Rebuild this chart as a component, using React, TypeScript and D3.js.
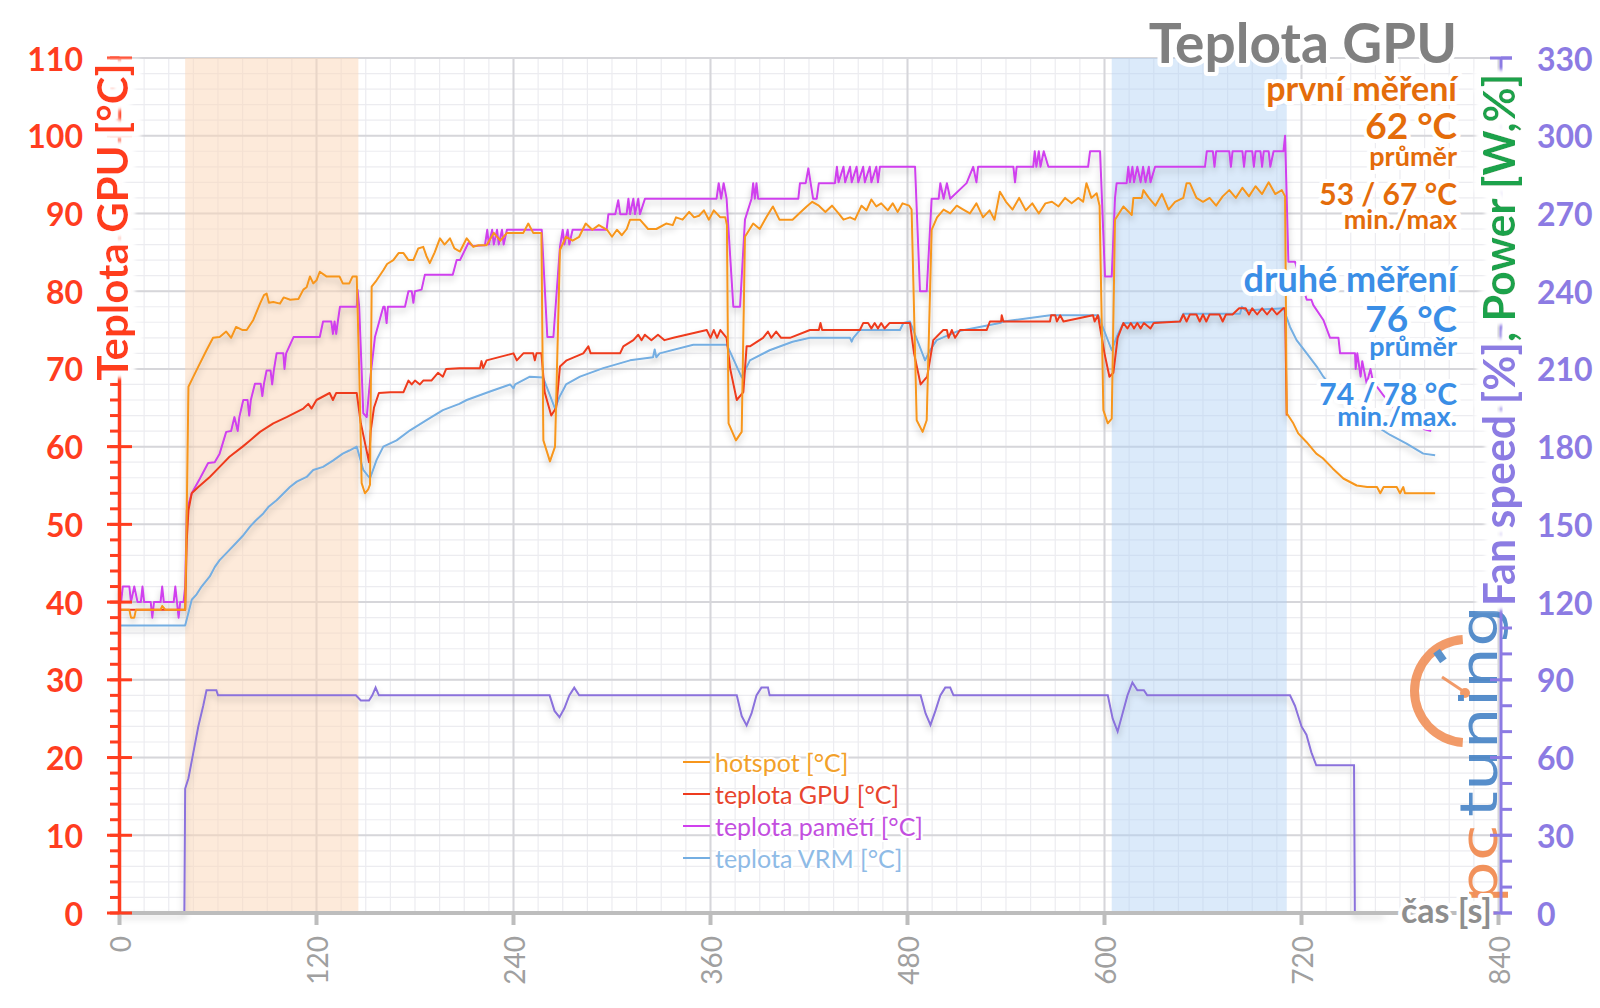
import React, { useEffect } from 'react';
import * as d3 from 'd3';

// ---------- data (time [s], value) ----------
const TIME_TICKS = [0, 120, 240, 360, 480, 600, 720, 840];
const LEFT_TICKS = [0, 10, 20, 30, 40, 50, 60, 70, 80, 90, 100, 110];
const RIGHT_TICKS = [0, 30, 60, 90, 120, 150, 180, 210, 240, 270, 300, 330];

const HOTSPOT: [number, number][] = [
  [0,39],[6,39],[7,38],[9,38],[10,39],[25,39],[26,39.5],[28,39],[40,39],[41,52],[42,67.7],[45,69],[48,70.3],[53,72.4],[57,74],[61,74.1],[65,74.8],[68,74],[71,75.4],[75,75],[77.5,75],[81.5,76.3],[85.6,78.4],[88,79.5],[89.6,79.7],[91,78.5],[93.7,78.6],[97.8,78.4],[100,79.2],[104,78.9],[109,79],[112,80.2],[114,80.5],[116,81.9],[118,81],[120,81.4],[122,82.5],[126,81.9],[134,81.9],[136,81],[140,81],[142,81.9],[144.5,81.9],[146,70],[147.5,55.3],[149.5,54],[151.5,54.5],[152.6,55.1],[153.6,80.6],[156.6,81.4],[160.7,82.7],[163,83.5],[166.8,84],[170,84.9],[173,84.9],[176,84],[179,84],[182,85.5],[185,85.7],[187,84.5],[189,83.6],[192,85],[195.2,86.8],[198,86],[201.3,86.8],[204,85.5],[207.4,85.1],[211.5,86.8],[215.5,85.7],[218.6,85.9],[223.6,85.9],[228,87.5],[232,86.5],[236,87.5],[240,87.5],[246,87.5],[249,88.7],[252,87.5],[257,87.5],[258.2,60.8],[262.2,58.1],[265.3,60],[268.3,85.3],[272,87],[276,86.5],[280,87],[284,88.7],[288,87.9],[292,88.5],[297,87.9],[300,87],[303,87.9],[306,87.2],[309,88],[311,89.2],[317,89.2],[322,88],[327,88],[333,88.7],[337,88.5],[339,89.5],[343,89.2],[347,90.2],[350,89.5],[353,89.7],[356,90.4],[359,89.2],[362,90.4],[366,89.5],[369,89.5],[370,88.5],[371,63],[375.5,60.8],[379,61.9],[381,87],[386,88.7],[390,88],[394,89.5],[398,90.9],[402,89.2],[410,89.2],[414,90],[418.6,90.9],[422,91.5],[426,91],[430,90.2],[434,91],[438,90],[441,89.2],[445,89.5],[448,89.2],[452,91],[455,90.4],[458,91.8],[461,90.9],[464,91.3],[468,90.4],[471,91.3],[474,90.2],[477,91.3],[481,91],[482.5,90.5],[485.6,63.4],[489.2,61.9],[491.7,63.4],[494.7,87.9],[498,89.5],[502,90.5],[506,90],[510,91],[514,90.5],[518,90],[522,91.3],[526,89.5],[530,90.4],[533,89.2],[536.3,92.8],[540,91.5],[544,90.5],[548,92],[552,90.4],[556,91.3],[560,90],[564,91.3],[568,91.5],[572,90.9],[576,92],[580,91.3],[584,92],[587,91.5],[589,93.9],[592,92],[595.2,92.6],[597,91],[599.3,64.7],[602,63],[604.4,63.6],[606.4,89.2],[611.5,90.9],[616.6,89.8],[617.6,92],[622.7,92],[623.7,93],[627,92],[631,91],[635,92.5],[639,90.5],[643,91.5],[648,92],[650,93.9],[652,93.9],[656,92],[660,91.5],[664,92],[668,91],[672,92.2],[676,93],[680,92],[684,93.3],[688,92.2],[692,93.5],[696,92.5],[700,94],[704,92.5],[708,93],[710,92.2],[711,64.3],[715,63],[718,61.7],[723,60.6],[729,59.1],[733,58.5],[739,57.2],[745.5,55.9],[753.6,55],[760,54.8],[766,54.8],[768,54],[770,54.8],[778,54.8],[780,54],[782,54.8],[783,54],[801.4,54]
];

const GPU: [number, number][] = [
  [0,39],[40,39],[41,48],[42,51.8],[44,54],[48,54.8],[55,56.1],[61,57.4],[67,58.7],[75,60],[79.5,60.8],[85.6,61.9],[93.7,63],[101.8,63.8],[112,64.9],[115,65.5],[117,64.9],[120,66],[128,66.9],[130,66],[132,66.9],[144.5,66.9],[147,63],[150,60],[152,58],[153,62],[155,65],[158,66.9],[165,67],[173,67],[176,68.5],[178,68],[180,68.5],[183,68],[185,68.5],[190,68.5],[194,69.5],[197,69],[199,70],[207,70.1],[219.6,70.1],[220.5,71],[221.5,70.1],[223.6,71.1],[240,72],[242,71.1],[246,72],[252,72],[253,71.1],[254,72],[257,72],[259,67],[263,64],[266,65],[268.3,70.3],[272.4,71.1],[282.5,72],[285.6,72.9],[287,72],[304.9,72],[306.9,72.9],[313,73.7],[316,74.4],[318,73.7],[320,74.4],[324,73.7],[328,74.4],[332,73.7],[337.4,74],[357.7,75],[360,74],[362,75],[364,74],[366,75],[369.8,74],[372,70],[376,66],[380,67],[382,72.9],[384,72.9],[392,74],[395,74.8],[397,74],[400,74.8],[403,74],[408.4,74],[420.6,75],[426,75],[427,75.9],[428,75],[451,75],[453,75.9],[456,75.9],[458,75.2],[460,75.9],[462,75.2],[464,75.9],[466,75.2],[469,75.9],[481.5,75.9],[484,72],[488,68],[492,69],[495.7,73.7],[501.8,75],[504,75],[505,74],[507,75],[509,74],[512,75],[528.2,75],[530.2,76.1],[537,76.1],[537.4,76.9],[538.4,76.1],[566.8,76.1],[567.5,76.9],[570,76.9],[571,76.1],[573,76.9],[575,76.1],[593,76.9],[594,76.1],[596,76.9],[600,72],[603,69],[605.4,69.5],[608,74],[611.5,75.9],[614,75.2],[616,75.9],[618,75.2],[620,75.9],[622,75.2],[624,75.9],[628,75.2],[630,75.9],[646,76.1],[648,77],[650,76.1],[652,77],[656,77],[658,76.1],[660,77],[662,76.1],[664,77],[670,77],[672,76.1],[674,77],[678,77],[682,77.8],[686,77.8],[688,77],[690,77.8],[693,77],[696,77.8],[699,77],[702,77.8],[705,77],[709,77.8],[710,77.8],[711,64]
];

const MEMORY: [number, number][] = [
  [0,42],[1,40],[2,42],[6,42],[7,40],[9,42],[11,40],[13,40],[14,42],[15,40],[19,40],[20,38],[21,40],[25,40],[26,42],[27,40],[33,40],[34,42],[35,40],[36,38],[37,40],[39,40],[40,42],[41,51.8],[44,54],[49,55.9],[54,57.9],[58,58],[61,59.1],[65,61.9],[68,62],[70,63.8],[72,62],[73,63.8],[75.4,66],[78,66],[79,64],[80,66],[82.5,68.1],[86,68.1],[87,66.5],[88,68.1],[89.6,69.8],[92,69.8],[93,68],[94,69.8],[95.7,72],[99.8,72],[100.5,70],[101.5,72],[106,74.1],[122,74.1],[124,76.1],[129,76.1],[130,74.5],[131,76.1],[132,74.5],[133,76.1],[134.3,78],[144.5,78],[145,80.2],[146,78],[148.5,64.3],[150.6,63.8],[152.6,68.5],[155.6,74.1],[160.7,78],[161.5,78],[162.7,75.9],[163.5,78],[173.9,78],[176,80],[178,80],[179,78.5],[180,80],[184,80.2],[186,82.1],[203,82.1],[205.4,84],[207.4,84],[212.5,86.2],[215.5,85.8],[222.6,85.9],[224,87.9],[225,86],[227,87.9],[228,86],[230,87.9],[231,86],[233,87.9],[234,86],[236,87.9],[257.2,87.9],[260.6,74.1],[264.3,74.1],[268.3,85.7],[270,87.9],[271,86],[273,87.9],[274,86],[276,87.9],[296.7,87.9],[297.8,89.9],[302,89.9],[303.8,91.7],[305,89.9],[308.9,89.9],[310,91.9],[311,89.9],[313,91.9],[314,89.9],[316,91.9],[317,89.9],[320.1,91.9],[363.7,91.9],[365,93.9],[366.5,91.9],[368,93.9],[369.8,91.9],[373.9,78],[378,78],[381,89.2],[385,91.9],[386,93.9],[387,91.9],[388,93.9],[389,91.9],[413.5,91.9],[414.5,93.9],[418,93.9],[419.6,95.8],[421,93.9],[422.5,91.9],[424.7,91.9],[426,93.9],[435.8,93.9],[437,96],[438,94],[441,96],[442,94],[445,96],[446,94],[449,96],[450,94],[453,96],[454,94],[457,96],[458,94],[461,96],[462,94],[463.2,96],[484.6,96],[487.6,80],[491.7,80],[494.7,91.9],[499,91.9],[500,93.9],[502,91.9],[504,93.9],[506,91.9],[516,93.9],[520,96],[522,94],[523,96],[544.5,96],[545.5,94],[546.5,96],[556.6,96],[557.5,98],[558.5,96],[560,98],[561,96],[563,98],[565.8,96],[590,96],[591.2,98],[597.3,98],[600.3,81.9],[604.4,81.9],[606.4,92],[607.4,93.9],[613.5,93.9],[614.5,96],[615.5,94],[617,96],[618,94],[620,96],[622,94],[623.5,96],[625,94],[627,96],[628,94],[630.8,96],[661.2,96],[662.3,98],[666,98],[667,96],[668,98],[676,98],[677,96],[678,98],[684,98],[685,96],[686,98],[690,98],[691,96],[692,98],[695,98],[696,96],[697,98],[700,98],[701,96],[703,98],[709,98],[710,100],[712,83.8],[716,83.8],[723.2,78.9],[726,78.9],[727.2,78.2],[733.3,76.3],[737.4,74],[742.5,74],[743.5,72],[752.6,72],[753,70],[754,72],[756,69],[757,71],[759.7,68.1],[762,70],[763.8,68.1],[766,67.7],[772,66],[780,64],[790,62.5],[799,62]
];

const VRM: [number, number][] = [
  [0,37],[40,37],[44,40.3],[47,41],[50,42],[55,43.3],[58,44.5],[61,45.4],[66,46.5],[71,47.6],[75,48.5],[79.5,49.7],[83,50.5],[87.6,51.4],[91,52.3],[95.7,53.1],[100,54],[103.8,54.8],[108,55.5],[114,56.1],[118,57],[124,57.4],[130,58.2],[136,59.1],[140,59.5],[144.5,60],[148.5,57],[152.6,55.9],[156.6,58.3],[160.7,60],[168.8,60.8],[177,62.1],[187,63.4],[197,64.7],[207,65.5],[211.5,66],[225.7,67.1],[237.9,68],[240,67.5],[241,68],[250,69],[258,68.9],[265.3,64.9],[268,66.4],[272,68],[280.5,69],[294.7,70.1],[311,71.1],[325,71.5],[326,72.5],[327,71.5],[329,72],[349.5,73.1],[370,73.1],[379,68.9],[384,71.1],[396,72.4],[410,73.5],[420.6,74],[445,74],[446,73.5],[447,74],[451,75],[475.4,75],[477.5,75.9],[481.5,76.1],[490.7,71.1],[493.7,72.4],[497.8,73.7],[510,74.8],[536.3,75.9],[538.4,76.1],[567,76.9],[596.2,76.9],[604.4,72.4],[607.4,74.1],[611.5,75.9],[646,76.1],[648,77.1],[682.6,77.1],[683.6,78],[686,77.5],[709,77.8],[713,75.4],[717,73.7],[723.2,72],[729.3,70.3],[733.3,69],[741.4,66.9],[749.6,65.1],[757.7,64.3],[765.8,62.6],[774,61.5],[784,60.4],[794.2,59.1],[801.4,58.9]
];

// fan speed in % (right axis)
const FAN: [number, number][] = [
  [0,0],[39.5,0],[40,48],[42,52],[45,62],[48,72],[51,80],[53,86],[59,86],[60,84],[144,84],[147,82],[152,82],[154,84],[156,87],[158,84],[262,84],[265,78],[268,75.6],[271,79],[274,84],[277,87],[280,84],[376,84],[379,76],[382,72.4],[385,77],[388,84],[391,87],[395,87],[396,84],[488,84],[491,77],[494,72.6],[497,78],[500,84],[503,87],[506,87],[508,84],[602,84],[605,75],[608,70],[611,77],[614,84],[617,89],[620,86],[624,86],[626,84],[713,84],[716,80],[720,72],[723,68.8],[726,62],[729,57],[752,57],[752.5,0],[770,0]
];

const BANDS: { from: number; to: number; color: string }[] = [
  { from: 40, to: 145.5, color: 'rgba(252, 214, 182, 0.5)' },
  { from: 604.4, to: 711, color: 'rgba(176, 208, 245, 0.45)' },
];

const SERIES = [
  { name: 'hotspot [°C]', data: HOTSPOT, color: '#f7961c', text: '#f2a12a' },
  { name: 'teplota GPU [°C]', data: GPU, color: '#ee3b1e', text: '#e8452e' },
  { name: 'teplota pamětí [°C]', data: MEMORY, color: '#d040ee', text: '#c34fdf' },
  { name: 'teplota VRM [°C]', data: VRM, color: '#74aee2', text: '#8fbbe6' },
];

const FONT = "Lato, 'Open Sans', 'DejaVu Sans', sans-serif";
const LEFT_COLOR = '#ff3d1f';
const RIGHT_COLOR = '#8c7be3';
const FAN_COLOR = '#8b72dc';

export default function App() {
  useEffect(() => {
    document.body.style.margin = '0';
  }, []);

  const X0 = 119.5, X1 = 1498.5, Y0 = 913, Y1 = 58;
  const x = d3.scaleLinear().domain([0, 840]).range([X0, X1]);
  const yL = d3.scaleLinear().domain([0, 110]).range([Y0, Y1]);
  const yR = d3.scaleLinear().domain([0, 330]).range([Y0, Y1]);

  const lineL = d3.line<[number, number]>().x(d => x(d[0])).y(d => yL(d[1]));
  const lineR = d3.line<[number, number]>().x(d => x(d[0])).y(d => yR(d[1]));

  const minorY = d3.range(0, 110.01, 2);
  const minorX = d3.range(0, 840.01, 15);

  const halo = { stroke: '#fff', strokeWidth: 8, strokeLinejoin: 'round' as const, paintOrder: 'stroke' as const };

  const titleX = 1457;

  return (
    <svg width={1600} height={1008} style={{ position: 'absolute', left: 0, top: 0, background: '#fff' }} fontFamily={FONT}>
      <defs>
        <filter id="shadow" x="-5%" y="-5%" width="110%" height="120%">
          <feDropShadow dx="0" dy="4" stdDeviation="3" floodColor="#000" floodOpacity="0.22" />
        </filter>
        <filter id="glow" x="-15%" y="-15%" width="130%" height="130%">
          <feMorphology in="SourceAlpha" operator="dilate" radius="6" result="d" />
          <feGaussianBlur in="d" stdDeviation="2" result="b" />
          <feFlood floodColor="#ffffff" result="f" />
          <feComposite in="f" in2="b" operator="in" result="w" />
          <feMerge>
            <feMergeNode in="w" />
            <feMergeNode in="w" />
            <feMergeNode in="SourceGraphic" />
          </feMerge>
        </filter>
      </defs>
      <rect x={0} y={0} width={1600} height={1008} fill="#fff" />

      {/* minor grid */}
      {minorY.map(v => (
        <line key={'my' + v} x1={X0} x2={X1} y1={yL(v)} y2={yL(v)} stroke="#ececf0" strokeWidth={1.2} />
      ))}
      {minorX.map(v => (
        <line key={'mx' + v} x1={x(v)} x2={x(v)} y1={Y1} y2={Y0} stroke="#ececf0" strokeWidth={1.2} />
      ))}
      {/* major grid */}
      {LEFT_TICKS.map(v => (
        <line key={'gy' + v} x1={X0} x2={X1} y1={yL(v)} y2={yL(v)} stroke="#d6d6da" strokeWidth={2} />
      ))}
      {TIME_TICKS.map(v => (
        <line key={'gx' + v} x1={x(v)} x2={x(v)} y1={Y1} y2={Y0} stroke="#d6d6da" strokeWidth={2} />
      ))}

      {/* bands */}
      {BANDS.map((b, i) => (
        <rect key={'b' + i} x={x(b.from)} y={Y1} width={x(b.to) - x(b.from)} height={Y0 - Y1} fill={b.color} />
      ))}

      {/* logo */}
      <g opacity={0.85}>
        <path
          d={d3.arc()({ innerRadius: 47, outerRadius: 56, startAngle: -Math.PI * 0.02, endAngle: -Math.PI * 0.98 }) || ''}
          transform="translate(1466,691)"
          fill="#f08a4f"
        />
        <line x1={1466} y1={693} x2={1442} y2={677} stroke="#f08a4f" strokeWidth={3} />
        <circle cx={1465} cy={693} r={5} fill="#f08a4f" />
        <rect x={1436} y={650} width={8} height={12} fill="#3f7fc4" transform="rotate(-35,1440,656)" />
        <text transform="translate(1497,817) rotate(-90)" fontSize={52} fontWeight={400} fill="#3a7bc2" textLength={212} lengthAdjust="spacingAndGlyphs" fontFamily="'DejaVu Sans', sans-serif">tuning</text>
        <text transform="translate(1497,904) rotate(-90)" fontSize={52} fontWeight={400} fill="#f08040" textLength={80} lengthAdjust="spacingAndGlyphs" fontFamily="'DejaVu Sans', sans-serif">pc</text>
      </g>

      {/* series */}
      <g filter="url(#shadow)">
        <path d={lineR(FAN) || ''} fill="none" stroke={FAN_COLOR} strokeWidth={2} />
        {[...SERIES].reverse().map(s => (
          <path key={s.name} d={lineL(s.data) || ''} fill="none" stroke={s.color} strokeWidth={2} strokeLinejoin="round" />
        ))}
      </g>

      {/* x axis */}
      <line x1={X0} x2={X1} y1={Y0} y2={Y0} stroke="#bdbdbd" strokeWidth={4} />
      {TIME_TICKS.map(v => (
        <g key={'xt' + v}>
          <line x1={x(v)} x2={x(v)} y1={Y0} y2={Y0 + 12} stroke="#bdbdbd" strokeWidth={4} />
          <text transform={`translate(${x(v)},${936}) rotate(-90)`} textAnchor="end" dominantBaseline="central" fontSize={28} fontWeight={400} fill="#a0a0a0">{v}</text>
        </g>
      ))}

      {/* left axis */}
      <line x1={X0} x2={X0} y1={Y0} y2={Y1} stroke={LEFT_COLOR} strokeWidth={3.5} />
      {minorY.map(v => (
        <line key={'lt' + v} x1={110} x2={X0} y1={yL(v)} y2={yL(v)} stroke={LEFT_COLOR} strokeWidth={3} />
      ))}
      {LEFT_TICKS.map(v => (
        <g key={'lmt' + v}>
          <line x1={107} x2={132} y1={yL(v)} y2={yL(v)} stroke={LEFT_COLOR} strokeWidth={3} />
          <text x={83} y={yL(v)} textAnchor="end" dominantBaseline="central" fontSize={32} fontWeight={700} fill={LEFT_COLOR}>{v}</text>
        </g>
      ))}

      {/* right axis */}
      <line x1={1501} x2={1501} y1={Y0} y2={Y1} stroke={RIGHT_COLOR} strokeWidth={3} />
      {d3.range(0, 330.01, 10).map(v => (
        <line key={'rt' + v} x1={1501} x2={1512} y1={yR(v)} y2={yR(v)} stroke={RIGHT_COLOR} strokeWidth={3} />
      ))}
      {RIGHT_TICKS.map(v => (
        <g key={'rmt' + v}>
          <line x1={1490} x2={1512} y1={yR(v)} y2={yR(v)} stroke={RIGHT_COLOR} strokeWidth={3} />
          <text x={1537} y={yR(v)} textAnchor="start" dominantBaseline="central" fontSize={32} fontWeight={700} fill={RIGHT_COLOR}>{v}</text>
        </g>
      ))}

      {/* axis titles */}
      <g filter="url(#glow)">
        <text transform="translate(128,222) rotate(-90)" textAnchor="middle" fontSize={42} fontWeight={700} fill={LEFT_COLOR}>Teplota GPU [°C]</text>
      </g>
      <g filter="url(#glow)">
        <text transform="translate(1515,340) rotate(-90)" textAnchor="middle" fontSize={43} fontWeight={700}>
          <tspan fill={RIGHT_COLOR}>Fan speed [%]</tspan>
          <tspan fill="#1ea24c">, Power [W,%]</tspan>
        </text>
      </g>
      <text x={1492} y={923} textAnchor="end" fontSize={34} fontWeight={700} fill="#8e8e8e" {...halo}>čas [s]</text>

      {/* legend */}
      {SERIES.map((s, i) => {
        const ly = 762 + i * 32;
        return (
          <g key={'lg' + i}>
            <line x1={683} x2={710} y1={ly} y2={ly} stroke={s.color} strokeWidth={2} />
            <text x={715} y={ly} dominantBaseline="central" fontSize={25} fill={s.text} {...halo} strokeWidth={4}>{s.name}</text>
          </g>
        );
      })}

      {/* title block */}
      <g textAnchor="end" fontWeight={700} {...halo}>
        <text x={titleX} y={63} fontSize={55} fill="#808080">Teplota GPU</text>
        <text x={titleX} y={101} fontSize={34} fill="#e46c0a">první měření</text>
        <text x={titleX} y={139} fontSize={37} fill="#e46c0a">62 °C</text>
        <text x={titleX} y={166} fontSize={27} fill="#e46c0a">průměr</text>
        <text x={titleX} y={205} fontSize={30} fill="#e46c0a">53 / 67 °C</text>
        <text x={titleX} y={229} fontSize={27} fill="#e46c0a">min./max</text>
        <text x={titleX} y={292} fontSize={36} fill="#3a8ee6">druhé měření</text>
        <text x={titleX} y={332} fontSize={37} fill="#3a8ee6">76 °C</text>
        <text x={titleX} y={356} fontSize={27} fill="#3a8ee6">průměr</text>
        <text x={titleX} y={405} fontSize={30} fill="#3a8ee6">74 / 78 °C</text>
        <text x={titleX} y={426} fontSize={27} fill="#3a8ee6">min./max.</text>
      </g>
    </svg>
  );
}
